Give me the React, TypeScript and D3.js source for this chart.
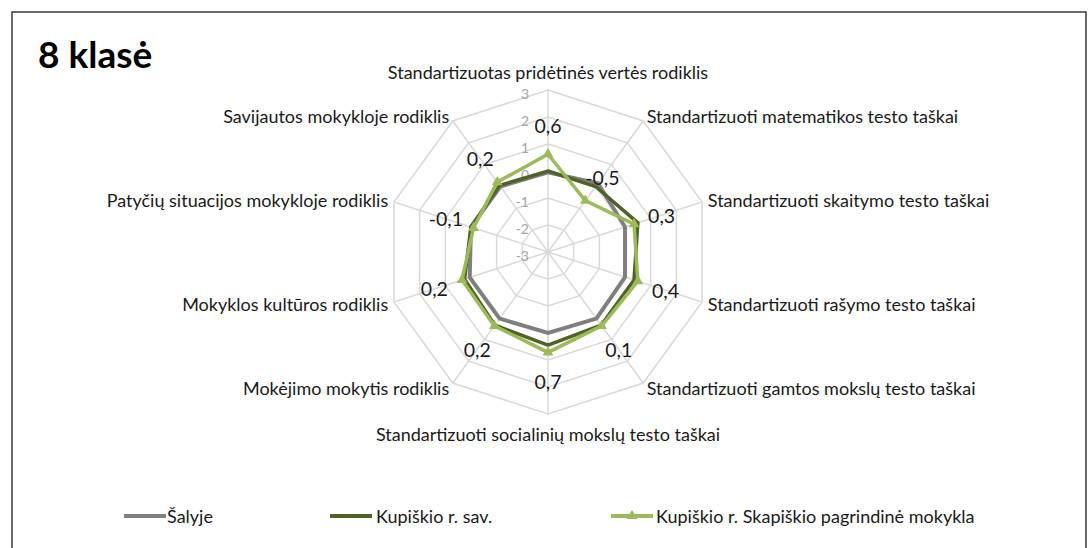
import React from "react";
import * as d3 from "d3";

const categories = [
  "Standartizuotas pridėtinės vertės rodiklis",
  "Standartizuoti matematikos testo taškai",
  "Standartizuoti skaitymo testo taškai",
  "Standartizuoti rašymo testo taškai",
  "Standartizuoti gamtos mokslų testo taškai",
  "Standartizuoti socialinių mokslų testo taškai",
  "Mokėjimo mokytis rodiklis",
  "Mokyklos kultūros rodiklis",
  "Patyčių situacijos mokykloje rodiklis",
  "Savijautos mokykloje rodiklis",
];

const salyje = [-0.05, 0.15, 0.0, 0.0, 0.05, 0.0, 0.05, 0.05, 0.0, 0.0];
const savivaldybe = [0.0, 0.0, 0.5, 0.35, 0.35, 0.45, 0.35, 0.25, 0.0, 0.05];
const mokykla = [0.62, -0.65, 0.35, 0.5, 0.38, 0.72, 0.38, 0.35, -0.1, 0.2];
const mokyklaLabels = ["0,6", "-0,5", "0,3", "0,4", "0,1", "0,7", "0,2", "0,2", "-0,1", "0,2"];

const ticks = [-3, -2, -1, 0, 1, 2, 3];

const seriesNames = ["Šalyje", "Kupiškio r. sav.", "Kupiškio r. Skapiškio pagrindinė mokykla"];
const seriesColors = ["#7f7f7f", "#4f6228", "#9bbb59"];

const FONT = "Lato, 'Open Sans', sans-serif";

export default function App() {
  const W = 1091;
  const H = 548;
  const cx = 548;
  const cy = 252;
  const R = 162;
  const r = d3.scaleLinear().domain([-3, 3]).range([0, R]);
  const n = categories.length;
  const ang = d3.scaleLinear().domain([0, n]).range([0, 2 * Math.PI]);
  const pt = (i: number, v: number) => {
    const a = ang(i);
    return [cx + r(v) * Math.sin(a), cy - r(v) * Math.cos(a)] as [number, number];
  };
  const ptR = (i: number, rad: number) => {
    const a = ang(i);
    return [cx + rad * Math.sin(a), cy - rad * Math.cos(a)] as [number, number];
  };
  const lineGen = d3.line<[number, number]>().curve(d3.curveLinearClosed);
  const seriesData = [salyje, savivaldybe, mokykla];
  const tri = d3.symbol().type(d3.symbolTriangle).size(50)();

  return (
    <svg width={W} height={H} style={{ position: "absolute", left: 0, top: 0, background: "#fff" }}>
      <rect x={0} y={0} width={W} height={H} fill="#fff" />
      <rect x={12} y={12} width={1074} height={560} fill="#fff" stroke="#3a3a3a" strokeWidth={1.5} />
      <text x={38} y={68} fontFamily={FONT} fontWeight={700} fontSize={37} fill="#000">8 klasė</text>

      {/* grid rings */}
      {ticks.slice(1).map((t) => (
        <path
          key={"ring" + t}
          d={lineGen(d3.range(n).map((i) => pt(i, t))) || ""}
          fill="none"
          stroke="#d9d9d9"
          strokeWidth={1.5}
        />
      ))}
      {/* spokes */}
      {d3.range(n).map((i) => {
        const [x, y] = pt(i, 3);
        return <line key={"sp" + i} x1={cx} y1={cy} x2={x} y2={y} stroke="#d9d9d9" strokeWidth={1.5} />;
      })}
      {/* tick labels */}
      {ticks.map((t) => (
        <text
          key={"tk" + t}
          x={cx - 19}
          y={cy - r(t) + 3}
          textAnchor="end"
          dominantBaseline="central"
          fontFamily={FONT}
          fontSize={14}
          fill="#a6a6a6"
        >
          {t}
        </text>
      ))}

      {/* category labels */}
      {categories.map((c, i) => {
        const a = ang(i);
        const s = Math.sin(a);
        const co = Math.cos(a);
        let x: number, y: number, anchor: string;
        if (Math.abs(s) < 0.01) {
          anchor = "middle";
          x = cx;
          y = co > 0 ? cy - R - 18 : cy + R + 20;
        } else {
          const [px, py] = ptR(i, R + 6);
          x = px;
          y = py;
          anchor = s > 0 ? "start" : "end";
        }
        return (
          <text
            key={"cat" + i}
            x={x}
            y={y}
            textAnchor={anchor}
            dominantBaseline="central"
            fontFamily={FONT}
            fontSize={18}
            fill="#1a1a1a"
          >
            {c}
          </text>
        );
      })}

      {/* series */}
      {seriesData.map((vals, si) => (
        <path
          key={"s" + si}
          d={lineGen(vals.map((v, i) => pt(i, v))) || ""}
          fill="none"
          stroke={seriesColors[si]}
          strokeWidth={si === 0 ? 4 : 3.5}
          strokeLinejoin="miter"
        />
      ))}
      {mokykla.map((v, i) => {
        const [x, y] = pt(i, v);
        return <path key={"m" + i} d={tri || ""} transform={`translate(${x},${y})`} fill={seriesColors[2]} />;
      })}
      {/* data labels */}
      {mokykla.map((v, i) => {
        const [x, y] = ptR(i, r(v) + 29);
        return (
          <text
            key={"dl" + i}
            x={x}
            y={y}
            textAnchor="middle"
            dominantBaseline="central"
            fontFamily={FONT}
            fontSize={19.5}
            fill="#1a1a1a"
          >
            {mokyklaLabels[i]}
          </text>
        );
      })}

      {/* legend */}
      {[
        { x: 124, tx: 167 },
        { x: 330, tx: 376 },
        { x: 611, tx: 656 },
      ].map((l, si) => (
        <g key={"lg" + si}>
          <line x1={l.x} x2={l.x + 42} y1={516} y2={516} stroke={seriesColors[si]} strokeWidth={4} />
          {si === 2 && <path d={tri || ""} transform={`translate(${l.x + 21},516)`} fill={seriesColors[2]} />}
          <text x={l.tx} y={516} dominantBaseline="central" fontFamily={FONT} fontSize={18} fill="#1a1a1a">
            {seriesNames[si]}
          </text>
        </g>
      ))}
    </svg>
  );
}
